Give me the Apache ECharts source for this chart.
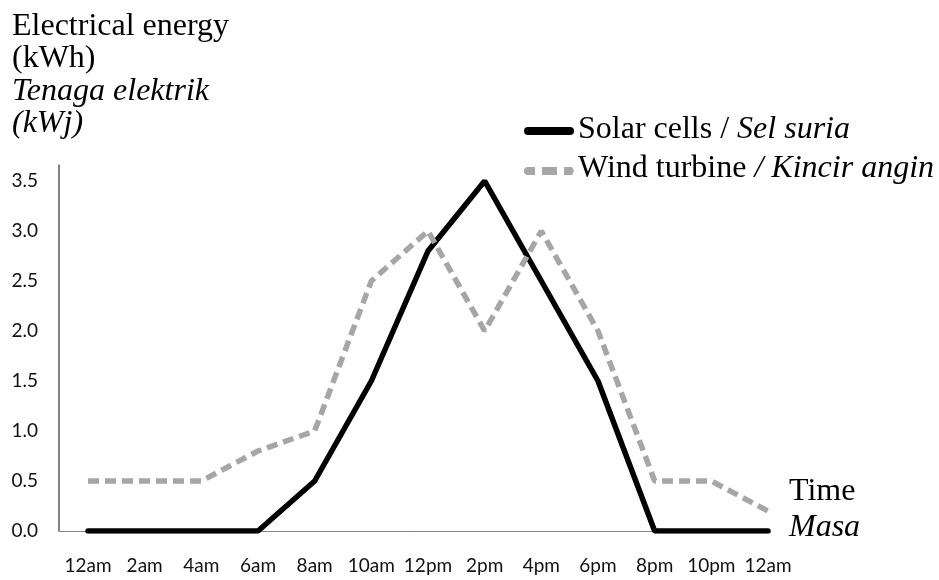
<!DOCTYPE html>
<html>
<head>
<meta charset="utf-8">
<script src="https://cdn.jsdelivr.net/npm/echarts@6/dist/echarts.min.js"></script>
<style>
  html, body { margin: 0; padding: 0; background: #fff; }
  #chart { width: 939px; height: 580px; }
</style>
</head>
<body>
<div id="chart"></div>
<script>
// Time of day (every two hours)
const categories = ['12am', '2am', '4am', '6am', '8am', '10am', '12pm', '2pm', '4pm', '6pm', '8pm', '10pm', '12am'];
// Electrical energy produced (kWh)
const solarCells = [0, 0, 0, 0, 0.5, 1.5, 2.8, 3.5, 2.5, 1.5, 0, 0, 0];
const windTurbine = [0.5, 0.5, 0.5, 0.8, 1.0, 2.5, 3.0, 2.0, 3.0, 2.0, 0.5, 0.5, 0.2];
// Value axis range and step
const yMin = 0;
const yMax = 3.5;
const yStep = 0.5;

const serif = '"Liberation Serif", "DejaVu Serif", serif';
const tickFont = 'Lato, "Open Sans", sans-serif';

// Plot geometry: the data area sits half a step inside the axis frame
const plotTop = 181, plotBottom = 531, axisTop = 165;
const axisMax = yMax * (plotBottom - axisTop) / (plotBottom - plotTop);

// Caption helper: a text block with its top-left corner at (x, y)
function caption(x, y, parts, lineHeight) {
  const lh = lineHeight || 32;
  return {
    type: 'text', x: x, y: y,
    style: {
      text: parts,
      fill: '#000',
      verticalAlign: 'top',
      lineHeight: lh,
      font: '32px ' + serif,
      rich: {
        n: { font: '32px ' + serif, fill: '#000', lineHeight: lh },
        i: { font: 'italic 32px ' + serif, fill: '#000', lineHeight: lh }
      }
    }
  };
}

const chart = echarts.init(document.getElementById('chart'), null, { renderer: 'canvas' });

chart.setOption({
  animation: false,
  backgroundColor: '#ffffff',
  grid: [
    { left: 88, right: 171, top: plotTop, bottom: 580 - plotBottom },
    { left: 59, right: 171, top: axisTop, bottom: 580 - plotBottom }
  ],
  xAxis: [
    {
      gridIndex: 0,
      type: 'category',
      data: categories,
      boundaryGap: false,
      axisLine: { show: false },
      axisTick: { show: false },
      axisLabel: { color: '#111', fontFamily: tickFont, fontSize: 19, margin: 25, interval: 0 },
      splitLine: { show: false }
    },
    {
      gridIndex: 1,
      type: 'value',
      min: 0,
      max: 1,
      axisLine: { show: true, lineStyle: { color: '#868686', width: 1 } },
      axisTick: { show: false },
      axisLabel: { show: false },
      splitLine: { show: false }
    }
  ],
  yAxis: [
    {
      gridIndex: 0,
      type: 'value',
      min: yMin,
      max: yMax,
      show: false,
      splitLine: { show: false }
    },
    {
      gridIndex: 1,
      type: 'value',
      min: yMin,
      max: axisMax,
      interval: yStep,
      axisLine: { show: true, lineStyle: { color: '#5a5a5a', width: 1.5 } },
      axisTick: { show: false },
      axisLabel: {
        showMaxLabel: false,
        color: '#111',
        fontFamily: tickFont,
        fontSize: 19,
        margin: 21,
        formatter: v => v.toFixed(1)
      },
      splitLine: { show: false }
    }
  ],
  legend: {
    orient: 'vertical',
    left: 519,
    top: 122,
    itemWidth: 50,
    itemHeight: 8,
    itemGap: 32,
    formatter: () => '',
    textStyle: { fontSize: 8, lineHeight: 8, padding: 0 },
    data: [
      { name: 'Solar cells', icon: 'path://M4,0H46A4,4 0 0 1 46,8H4A4,4 0 0 1 4,0Z' },
      { name: 'Wind turbine', icon: 'path://M4,0H11V8H4A4,4 0 0 1 4,0Z M18,0H33V8H18Z M40,0H48L50,4L48,8H40Z' }
    ]
  },
  series: [
    {
      name: 'Solar cells',
      type: 'line',
      xAxisIndex: 0,
      yAxisIndex: 0,
      data: solarCells,
      symbol: 'none',
      lineStyle: { color: '#000', width: 5.5, cap: 'round' },
      itemStyle: { color: '#000' }
    },
    {
      name: 'Wind turbine',
      type: 'line',
      xAxisIndex: 0,
      yAxisIndex: 0,
      data: windTurbine,
      symbol: 'none',
      lineStyle: { color: '#a6a6a6', width: 5.5, type: [11, 6] },
      itemStyle: { color: '#a6a6a6' }
    }
  ],
  graphic: [
    caption(12, 10, '{n|Electrical energy}\n{n|(kWh)}\n{i|Tenaga elektrik}\n{i|(kWj)}', 32.5),
    caption(578, 114, '{n|Solar cells / }{i|Sel suria}'),
    caption(578, 153, '{n|Wind turbine }{i|/ Kincir angin}'),
    caption(789, 473, '{n|Time}\n{i|Masa}', 36.5)
  ]
});
</script>
</body>
</html>
